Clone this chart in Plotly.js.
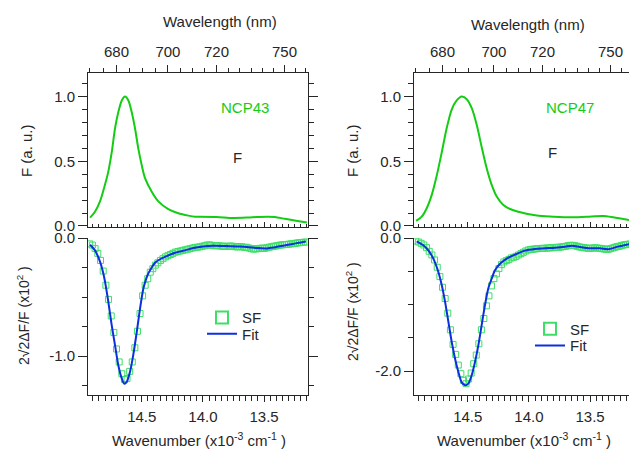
<!DOCTYPE html>
<html>
<head>
<meta charset="utf-8">
<script src="https://cdn.plot.ly/plotly-3.0.1.min.js"></script>
<style>html,body{margin:0;padding:0;background:#fff;}#plot{width:629px;height:449px;}</style>
</head>
<body>
<div id="plot"></div>
<script>
// ---------- DATA ----------
// Fluorescence spectra (x: wavenumber, 10^3 cm^-1)
const F43_nu = [14.922,14.882,14.841,14.800,14.773,14.745,14.718,14.691,14.663,14.636,14.609,14.582,14.555,14.528,14.500,14.473,14.418,14.364,14.283,14.201,14.119,14.065,14.024,13.887,13.752,13.615,13.479,13.411,13.330,13.239,13.150];
const F43    = [0.064,0.11,0.19,0.32,0.42,0.57,0.755,0.88,0.97,1.0,0.97,0.88,0.755,0.60,0.47,0.37,0.265,0.19,0.13,0.098,0.08,0.072,0.072,0.07,0.062,0.066,0.072,0.07,0.055,0.04,0.026];
const F47_nu = [14.922,14.876,14.835,14.794,14.753,14.712,14.672,14.631,14.590,14.549,14.508,14.467,14.426,14.386,14.345,14.304,14.263,14.209,14.154,14.087,13.936,13.801,13.664,13.528,13.392,13.310,13.182];
const F47    = [0.039,0.072,0.137,0.24,0.39,0.57,0.755,0.90,0.97,1.0,0.98,0.91,0.78,0.61,0.446,0.317,0.227,0.162,0.131,0.11,0.08,0.072,0.067,0.072,0.077,0.067,0.046];

// SF data (x: wavelength nm, converted to wavenumber for plotting)
const SF43_nm = [670,671,672,673,674,675,676,677,678,679,680,681,682,683,684,685,686,687,688,689,690,691,692,693,694,695,696,697,698,699,700,701,702,703,704,705,706,707,708,709,710,711,712,713,714,715,716,717,718,719,720,721,722,723,724,725,726,727,728,729,730,731,732,733,734,735,736,737,738,739,740,741,742,743,744,745,746,747,748,749,750,751,752,753,754,755,756,757,758,759,760];
const SF43 = [-0.05,-0.06,-0.09,-0.13,-0.19,-0.28,-0.40,-0.52,-0.66,-0.80,-0.94,-1.05,-1.15,-1.20,-1.19,-1.13,-1.05,-0.93,-0.79,-0.64,-0.49,-0.40,-0.345,-0.29,-0.26,-0.23,-0.21,-0.19,-0.175,-0.16,-0.15,-0.14,-0.13,-0.12,-0.115,-0.11,-0.105,-0.10,-0.095,-0.09,-0.085,
  -0.08,-0.078,-0.075,-0.07,-0.066,-0.06,-0.058,-0.062,-0.066,-0.065,
  -0.066,-0.07,-0.068,-0.072,-0.07,-0.068,-0.07,-0.074,-0.076,-0.072,
  -0.075,-0.08,-0.078,-0.085,-0.09,-0.094,-0.093,-0.09,-0.088,-0.085,
  -0.088,-0.082,-0.078,-0.074,-0.07,-0.068,-0.064,-0.06,-0.058,-0.056,
  -0.055,-0.052,-0.05,-0.048,-0.045,-0.042,-0.04,-0.038,-0.036,-0.034];
const SF47_nm = [670,671,672,673,674,675,676,677,678,679,680,681,682,683,684,685,686,687,688,689,690,691,692,693,694,695,696,697,698,699,700,701,702,703,704,705,706,707,708,709,710,711,712,713,714,715,716,717,718,719,720,721,722,723,724,725,726,727,728,729,730,731,732,733,734,735,736,737,738,739,740,741,742,743,744,745,746,747,748,749,750,751,752,753,754,755,756,757,758,759];
const SF47 = [-0.045,-0.06,-0.08,-0.105,-0.145,-0.20,-0.255,-0.33,-0.44,-0.58,-0.74,-0.91,-1.13,-1.38,-1.60,-1.75,-1.91,-2.04,-2.14,-2.19,-2.12,-2.03,-1.89,-1.76,-1.59,-1.38,-1.21,-1.02,-0.87,-0.72,-0.61,-0.54,-0.46,-0.40,-0.36,-0.34,-0.325,-0.30,-0.29,-0.275,-0.255,
  -0.235,-0.215,-0.195,-0.18,-0.172,-0.168,-0.165,-0.16,-0.158,-0.155,
  -0.155,-0.15,-0.15,-0.145,-0.145,-0.14,-0.14,-0.135,-0.13,-0.125,
  -0.115,-0.11,-0.11,-0.115,-0.125,-0.135,-0.14,-0.145,-0.15,-0.155,
  -0.155,-0.15,-0.148,-0.15,-0.155,-0.16,-0.165,-0.17,-0.17,-0.16,
  -0.15,-0.14,-0.13,-0.125,-0.115,-0.105,-0.10,-0.095,-0.09];

// Fits (x: wavenumber)
const Fit43_nu = [14.922,14.882,14.841,14.816,14.800,14.773,14.745,14.718,14.691,14.663,14.642,14.623,14.596,14.569,14.541,14.514,14.487,14.465,14.446,14.418,14.391,14.350,14.310,14.228,14.146,14.078,13.999,13.917,13.819,13.721,13.640,13.558,13.476,13.411,13.345,13.264,13.182,13.158];
const Fit43    = [-0.057,-0.105,-0.20,-0.29,-0.37,-0.54,-0.74,-0.91,-1.08,-1.19,-1.235,-1.22,-1.135,-0.99,-0.80,-0.60,-0.43,-0.35,-0.30,-0.25,-0.21,-0.18,-0.16,-0.125,-0.105,-0.085,-0.072,-0.066,-0.068,-0.072,-0.076,-0.085,-0.088,-0.078,-0.066,-0.05,-0.033,-0.03];
const Fit47_nu = [14.917,14.863,14.822,14.781,14.740,14.712,14.685,14.658,14.631,14.604,14.577,14.549,14.522,14.495,14.467,14.440,14.413,14.386,14.359,14.332,14.304,14.277,14.236,14.181,14.114,14.032,13.950,13.868,13.787,13.705,13.648,13.582,13.501,13.419,13.354,13.272,13.182];
const Fit47    = [-0.05,-0.11,-0.185,-0.31,-0.51,-0.71,-0.96,-1.26,-1.56,-1.81,-2.01,-2.17,-2.215,-2.19,-2.06,-1.86,-1.61,-1.31,-1.01,-0.76,-0.61,-0.486,-0.386,-0.31,-0.25,-0.19,-0.165,-0.155,-0.145,-0.13,-0.115,-0.135,-0.155,-0.155,-0.168,-0.13,-0.095];

// Tick labels
const wlMajor = [680,700,720,750];
const wlMinor = [670,675,685,690,695,705,710,715,725,730,735,740,745,755,760];
const wnTicks = [14.5,14.0,13.5];
const wnTickText = ['14.5','14.0','13.5'];
const fTicks = [0,0.5,1.0];
const fTickText = ['0.0','0.5','1.0'];
const sf43Ticks = [0,-1.0];
const sf43TickText = ['0.0','-1.0'];
const sf47Ticks = [0,-2.0];
const sf47TickText = ['0.0','-2.0'];

// ---------- STYLE / LAYOUT ----------
const W = 629, H = 449;
const px = v => v / W, py = v => 1 - v / H;
const toNu = nm => 1e4 / nm;

const GREEN = '#14cc14', BLUE = '#0c2fe0', SQ = '#3ddf66', AX = '#262626';
const FONT = 'Liberation Sans, Arial, sans-serif';

const domL = [px(88), px(308)], domR = [px(414), 1];
const domTop = [py(227), py(72.5)], domBot = [py(395), py(238)];
const rangeL = [14.939, 13.141], rangeR = [14.939, 13.182];

function wnAxisTop(dom, rng, anchor) {
  return {domain: dom, range: rng, anchor: anchor, showline: true, linecolor: AX, linewidth: 1,
    showgrid: false, zeroline: false, tickmode: 'array', tickvals: wnTicks, showticklabels: false,
    ticks: 'inside', ticklen: 5, tickcolor: AX,
    minor: {tickmode: 'linear', tick0: 0, dtick: 0.05, ticks: 'inside', ticklen: 3, tickcolor: AX}};
}
function wlAxis(over, rng, anchor) {
  return {overlaying: over, side: 'top', range: rng, anchor: anchor, showline: true, linecolor: AX, linewidth: 1,
    showgrid: false, zeroline: false, tickmode: 'array', tickvals: wlMajor.map(toNu), ticktext: wlMajor.map(String),
    ticks: 'outside', ticklen: 7, tickcolor: AX, tickfont: {family: FONT, size: 15, color: AX}, ticklabelstandoff: 2,
    minor: {tickmode: 'array', tickvals: wlMinor.map(toNu), ticks: 'outside', ticklen: 4, tickcolor: AX}};
}
function wnAxisBot(dom, rng, anchor) {
  return {domain: dom, range: rng, anchor: anchor, showline: true, linecolor: AX, linewidth: 1,
    showgrid: false, zeroline: false, tickmode: 'array', tickvals: wnTicks, ticktext: wnTickText,
    ticks: 'outside', ticklen: 6, tickcolor: AX, tickfont: {family: FONT, size: 15, color: AX}, ticklabelstandoff: 2,
    minor: {tickmode: 'linear', tick0: 0, dtick: 0.05, ticks: 'outside', ticklen: 5, tickcolor: AX}};
}
function yAxis(dom, rng, anchor, tv, tt, mdt, mirror) {
  return {domain: dom, range: rng, anchor: anchor, showline: true, linecolor: AX, linewidth: 1,
    mirror: mirror ? 'ticks' : false,
    showgrid: false, zeroline: false, tickmode: 'array', tickvals: tv, ticktext: tt,
    ticks: 'outside', ticklen: 9, tickcolor: AX, tickfont: {family: FONT, size: 15, color: AX},
    minor: {tickmode: 'linear', tick0: 0, dtick: mdt, ticks: 'outside', ticklen: 5, tickcolor: AX}};
}

const traces = [
  {x: F43_nu, y: F43, xaxis: 'x', yaxis: 'y', mode: 'lines', line: {color: GREEN, width: 2, shape: 'spline', smoothing: 0.8}, showlegend: false, name: 'F'},
  {x: [], y: [], xaxis: 'x2', yaxis: 'y', mode: 'lines', showlegend: false, hoverinfo: 'skip', name: 'wl'},
  {x: SF43_nm.map(toNu), y: SF43, xaxis: 'x3', yaxis: 'y2', mode: 'markers', name: 'SF', legend: 'legend',
    marker: {symbol: 'square-open', size: 6, color: SQ, line: {width: 1, color: SQ}}},
  {x: Fit43_nu, y: Fit43, xaxis: 'x3', yaxis: 'y2', mode: 'lines', name: 'Fit', legend: 'legend2',
    line: {color: BLUE, width: 2, shape: 'spline', smoothing: 0.8}},
  {x: F47_nu, y: F47, xaxis: 'x4', yaxis: 'y3', mode: 'lines', line: {color: GREEN, width: 2, shape: 'spline', smoothing: 0.8}, showlegend: false, name: 'F'},
  {x: [], y: [], xaxis: 'x5', yaxis: 'y3', mode: 'lines', showlegend: false, hoverinfo: 'skip', name: 'wl'},
  {x: SF47_nm.map(toNu), y: SF47, xaxis: 'x6', yaxis: 'y4', mode: 'markers', name: 'SF', legend: 'legend3',
    marker: {symbol: 'square-open', size: 6, color: SQ, line: {width: 1, color: SQ}}},
  {x: Fit47_nu, y: Fit47, xaxis: 'x6', yaxis: 'y4', mode: 'lines', name: 'Fit', legend: 'legend4',
    line: {color: BLUE, width: 2, shape: 'spline', smoothing: 0.8}}
];

function leg(xp, yp, sizing) {
  return {x: px(xp), y: py(yp), xanchor: 'left', yanchor: 'middle', bgcolor: 'rgba(0,0,0,0)', borderwidth: 0,
    font: {family: FONT, size: 15, color: AX}, itemsizing: sizing};
}
function ann(text, xp, yp, opts) {
  return Object.assign({text: text, xref: 'paper', yref: 'paper', x: px(xp), y: py(yp), xanchor: 'center', yanchor: 'middle',
    showarrow: false, font: {family: FONT, size: 15, color: AX}}, opts || {});
}

const layout = {
  width: W, height: H, margin: {l: 0, r: 0, t: 0, b: 0}, paper_bgcolor: '#fff', plot_bgcolor: 'rgba(0,0,0,0)',
  xaxis: wnAxisTop(domL, rangeL, 'y'),
  xaxis2: wlAxis('x', rangeL, 'y'),
  xaxis3: wnAxisBot(domL, rangeL, 'y2'),
  xaxis4: wnAxisTop(domR, rangeR, 'y3'),
  xaxis5: wlAxis('x4', rangeR, 'y3'),
  xaxis6: wnAxisBot(domR, rangeR, 'y4'),
  yaxis: yAxis(domTop, [-0.008, 1.186], 'x', fTicks, fTickText, 0.1, true),
  yaxis2: yAxis(domBot, [-1.33, 0], 'x3', sf43Ticks, sf43TickText, 0.25, true),
  yaxis3: yAxis(domTop, [-0.008, 1.186], 'x4', fTicks, fTickText, 0.1, false),
  yaxis4: yAxis(domBot, [-2.36, 0], 'x6', sf47Ticks, sf47TickText, 0.5, false),
  legend: leg(202, 317.7, 'constant'),
  legend2: leg(202, 334, 'trace'),
  legend3: leg(530, 329, 'constant'),
  legend4: leg(530, 345.7, 'trace'),
  annotations: [
    ann('Wavelength (nm)', 220, 21),
    ann('Wavelength (nm)', 527.5, 24),
    ann('Wavenumber (x10<sup>-3</sup> cm<sup>-1</sup> )', 198.5, 439),
    ann('Wavenumber (x10<sup>-3</sup> cm<sup>-1</sup> )', 524, 439),
    ann('F (a. u.)', 26, 150, {textangle: -90}),
    ann('F (a. u.)', 352, 151, {textangle: -90}),
    ann('2√2ΔF/F (x10<sup>2</sup> )', 23, 316, {textangle: -90, font: {family: FONT, size: 14, color: AX}}),
    ann('2√2ΔF/F (x10<sup>2</sup> )', 352, 312, {textangle: -90, font: {family: FONT, size: 14, color: AX}}),
    ann('NCP43', 245, 108, {font: {family: FONT, size: 15, color: GREEN}}),
    ann('NCP47', 570, 108, {font: {family: FONT, size: 15, color: GREEN}}),
    ann('F', 237, 158),
    ann('F', 552, 152)
  ]
};

Plotly.newPlot('plot', traces, layout, {staticPlot: true, displayModeBar: false});
</script>
</body>
</html>
